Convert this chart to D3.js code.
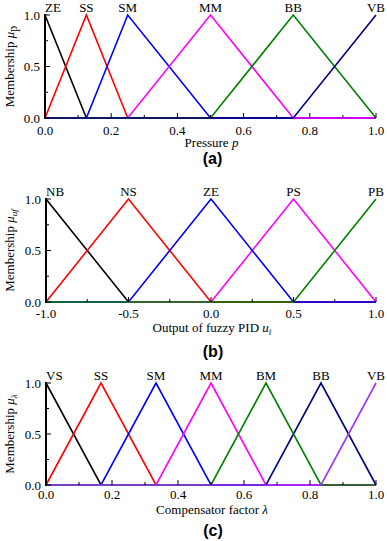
<!DOCTYPE html>
<html>
<head>
<meta charset="utf-8">
<script src="https://d3js.org/d3.v7.min.js"></script>
<style>
body { margin: 0; background: #fff; }
svg { display: block; }
text { font-family: 'Liberation Serif', 'Times New Roman', serif; font-size: 13px; fill: #000; }
.tag { font-family: 'Liberation Sans', Arial, sans-serif; font-weight: bold; font-size: 16px; }
</style>
</head>
<body>
<div id="chart"></div>
<script>

// panel (a) : pressure
var labelsA = ["ZE", "SS", "SM", "MM", "BB", "VB"];
var peaksA = [0, 0.125, 0.25, 0.5, 0.75, 1];
var colorsA = ["#000000", "#ff0000", "#0000ff", "#ff00ff", "#008000", "#000080"];
var orderA = [0, 1, 2, 3, 4, 5];
var ticksA = [0, 0.2, 0.4, 0.6, 0.8, 1.0];

// panel (b) : fuzzy PID output
var labelsB = ["NB", "NS", "ZE", "PS", "PB"];
var peaksB = [-1, -0.5, 0, 0.5, 1];
var colorsB = ["#000000", "#ff0000", "#0000ff", "#ff00ff", "#008000"];
var orderB = [0, 1, 3, 2, 4];
var ticksB = [-1, -0.5, 0, 0.5, 1];

// panel (c) : compensator factor
var labelsC = ["VS", "SS", "SM", "MM", "BM", "BB", "VB"];
var peaksC = [0, 1/6, 2/6, 3/6, 4/6, 5/6, 1];
var colorsC = ["#000000", "#ff0000", "#0000ff", "#ff00ff", "#008000", "#000080", "#9933ff"];
var orderC = [0, 1, 2, 3, 5, 4, 6];
var ticksC = [0, 0.2, 0.4, 0.6, 0.8, 1.0];

var yTicks = [0, 0.5, 1];

var width = 387, height = 541;
var svg = d3.select("#chart").append("svg").attr("width", width).attr("height", height);

var panels = [
  {labels: labelsA, peaks: peaksA, colors: colorsA, order: orderA, ticks: ticksA, minor: 0.1,
   top: 15, bottom: 118, left: 45, right: 376, tag: "(a)", tagY: 164,
   ylab: ["Membership ", "μ", "p", false], xlab: ["Pressure ", "p", "", false], xlabY: 147, tickY: 135},
  {labels: labelsB, peaks: peaksB, colors: colorsB, order: orderB, ticks: ticksB, minor: 0.25,
   top: 199, bottom: 302, left: 46, right: 376, tag: "(b)", tagY: 357,
   ylab: ["Membership ", "μ", "uf", true], xlab: ["Output of fuzzy PID ", "u", "f", false], xlabY: 332, tickY: 318},
  {labels: labelsC, peaks: peaksC, colors: colorsC, order: orderC, ticks: ticksC, minor: 0.1,
   top: 383, bottom: 485, left: 46, right: 376, tag: "(c)", tagY: 536,
   ylab: ["Membership ", "μ", "λ", true], xlab: ["Compensator factor ", "λ", "", false], xlabY: 514, tickY: 499}
];

panels.forEach(function(p) {
  var x0 = p.peaks[0], x1 = p.peaks[p.peaks.length - 1];
  var x = d3.scaleLinear().domain([x0, x1]).range([p.left, p.right]);
  var y = d3.scaleLinear().domain([0, 1]).range([p.bottom, p.top]);
  var g = svg.append("g");

  // membership triangles, each runs across the whole domain
  var line = d3.line().x(d => x(d[0])).y(d => y(d[1]));
  p.order.forEach(function(i) {
    var pts = [];
    if (i > 0) { pts.push([x0, 0]); pts.push([p.peaks[i - 1], 0]); }
    pts.push([p.peaks[i], 1]);
    if (i < p.peaks.length - 1) { pts.push([p.peaks[i + 1], 0]); pts.push([x1, 0]); }
    g.append("path").attr("d", line(pts)).attr("fill", "none")
      .attr("stroke", p.colors[i]).attr("stroke-width", 1.6);
  });

  // left axis
  g.append("line").attr("x1", p.left).attr("x2", p.left).attr("y1", y(1) - 1).attr("y2", y(0) + 1)
    .attr("stroke", "#000").attr("stroke-width", 2);
  d3.range(0, 1.01, 0.25).forEach(function(v) {
    var major = Math.abs(v * 2 - Math.round(v * 2)) < 1e-6;
    g.append("line").attr("x1", p.left).attr("x2", p.left + (major ? 5 : 3))
      .attr("y1", y(v)).attr("y2", y(v)).attr("stroke", "#000").attr("stroke-width", 1);
  });
  yTicks.forEach(function(v) {
    g.append("text").attr("x", p.left - 5).attr("y", y(v) + 4.5).attr("text-anchor", "end").text(v.toFixed(1));
  });

  // bottom ticks (inside)
  var n = Math.round((x1 - x0) / p.minor);
  for (var k = 0; k <= n; k++) {
    var v = x0 + k * p.minor;
    var major = p.ticks.some(t => Math.abs(t - v) < 1e-6);
    g.append("line").attr("x1", x(v)).attr("x2", x(v)).attr("y1", p.bottom).attr("y2", p.bottom - (major ? 5 : 3))
      .attr("stroke", "#000").attr("stroke-width", 1);
  }
  p.ticks.forEach(function(v) {
    g.append("text").attr("x", x(v)).attr("y", p.tickY).attr("text-anchor", "middle").text(v.toFixed(1));
  });

  // category labels
  p.labels.forEach(function(l, i) {
    var anchor = i == 0 ? "start" : "middle";
    g.append("text").attr("x", x(p.peaks[i])).attr("y", p.top - 3).attr("text-anchor", anchor).text(l);
  });

  // y label
  var yl = g.append("text").attr("transform", "translate(14," + ((p.top + p.bottom) / 2) + ") rotate(-90)")
    .attr("text-anchor", "middle");
  yl.append("tspan").text(p.ylab[0]);
  yl.append("tspan").style("font-style", "italic").text(p.ylab[1]);
  yl.append("tspan").attr("dy", 3).style("font-size", p.ylab[3] ? "9px" : "12px")
    .style("font-style", p.ylab[3] ? "italic" : "normal").text(p.ylab[2]);

  // x label
  var xl = g.append("text").attr("x", (p.left + p.right) / 2 + 1).attr("y", p.xlabY).attr("text-anchor", "middle");
  xl.append("tspan").text(p.xlab[0]);
  xl.append("tspan").style("font-style", "italic").text(p.xlab[1]);
  if (p.xlab[2]) xl.append("tspan").attr("dy", 3).style("font-size", "8px").text(p.xlab[2]);

  svg.append("text").attr("class", "tag").attr("x", (p.left + p.right) / 2 + 2).attr("y", p.tagY)
    .attr("text-anchor", "middle").text(p.tag);
});

</script>
</body>
</html>
